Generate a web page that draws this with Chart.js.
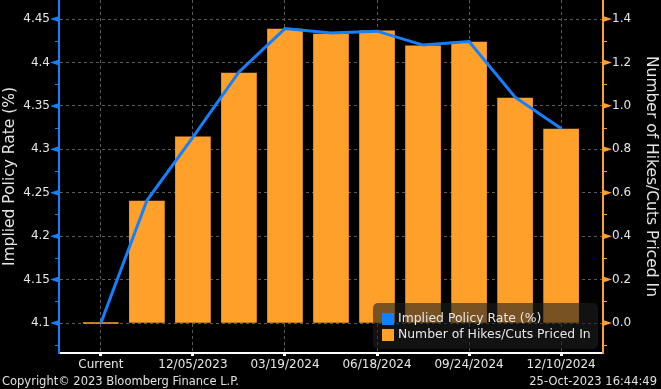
<!DOCTYPE html>
<html>
<head>
<meta charset="utf-8">
<script src="https://cdn.jsdelivr.net/npm/chart.js@4"></script>
<style>
  body { margin: 0; background: #000; }
  #wrap { position: relative; width: 661px; height: 389px; }
  .foot { position: absolute; bottom: 1px; color: #e0e0e0; font: 11.5px "DejaVu Sans", sans-serif; }
</style>
</head>
<body>
<div id="wrap">
  <canvas id="myChart" width="661" height="389"></canvas>
  <div class="foot" style="left:2px">Copyright© 2023 Bloomberg Finance L.P.</div>
  <div class="foot" style="right:4px">25-Oct-2023 16:44:49</div>
</div>
<script>
// meeting dates (only every other one is labelled on the axis)
var categories = ['Current', '11/01/2023', '12/05/2023', '01/31/2024', '03/19/2024', '05/01/2024',
    '06/18/2024', '07/31/2024', '09/24/2024', '11/07/2024', '12/10/2024'];
var impliedRate = [4.100, 4.241, 4.314, 4.389, 4.439, 4.434, 4.436, 4.420, 4.424, 4.360, 4.324];
var hikesCuts = [0.000, 0.562, 0.857, 1.151, 1.354, 1.331, 1.345, 1.276, 1.294, 1.036, 0.893];
var rateTicks = { min: 4.0655, max: 4.4719, step: 0.05 };
var hikeTicks = { min: -0.138, max: 1.4875, step: 0.2 };

var blue = 'rgb(18,128,255)', orange = 'rgb(255,160,42)', txt = '#e6e6e6', gridCol = '#5c5c5c';
var font = { family: 'DejaVu Sans', size: 12 };

// little flag markers + minor ticks on the two value axes
const axisMarks = {
    id: 'axisMarks',
    afterDraw(chart) {
        const ctx = chart.ctx;
        [['y', -1, blue, rateTicks.step], ['y1', 1, orange, hikeTicks.step]].forEach(function (a) {
            const s = chart.scales[a[0]], dir = a[1];
            const x0 = dir < 0 ? s.right : s.left;
            ctx.save();
            ctx.fillStyle = a[2];
            ctx.strokeStyle = a[2];
            ctx.lineWidth = 1;
            s.ticks.forEach(function (t) {
                const y = s.getPixelForValue(t.value);
                ctx.beginPath();
                ctx.moveTo(x0, y - 3);
                ctx.lineTo(x0 + dir * 9, y);
                ctx.lineTo(x0, y + 3);
                ctx.closePath();
                ctx.fill();
            });
            const first = s.ticks[0].value;
            for (let v = first - a[3] / 2; v <= s.max; v += a[3]) {
                if (v < s.min) continue;
                const y = Math.round(s.getPixelForValue(v)) + 0.5;
                ctx.beginPath();
                ctx.moveTo(x0, y);
                ctx.lineTo(x0 + dir * 4, y);
                ctx.stroke();
            }
            ctx.restore();
        });
    }
};

// legend box sitting inside the plot, bottom right
const boxLegend = {
    id: 'boxLegend',
    afterDraw(chart) {
        const ctx = chart.ctx, ca = chart.chartArea;
        const w = 225, h = 46;
        const x = ca.right - w - 5, y = ca.bottom - h - 4;
        ctx.save();
        ctx.fillStyle = 'rgba(30,30,30,0.6)';
        ctx.beginPath();
        ctx.roundRect(x, y, w, h, 5);
        ctx.fill();
        ctx.font = '12.4px "DejaVu Sans"';
        ctx.textBaseline = 'middle';
        chart.data.datasets.forEach(function (ds, i) {
            const cy = y + 16 + i * 16;
            ctx.fillStyle = ds.legendColor;
            ctx.fillRect(x + 9, cy - 6, 12, 12);
            ctx.fillStyle = txt;
            ctx.fillText(ds.label, x + 25, cy);
        });
        ctx.restore();
    }
};

const data = {
    labels: categories,
    datasets: [{
        type: 'line',
        label: 'Implied Policy Rate (%)',
        data: impliedRate,
        yAxisID: 'y',
        borderColor: blue,
        legendColor: blue,
        borderWidth: 3,
        pointRadius: 0,
        tension: 0,
        order: 0
    }, {
        type: 'bar',
        label: 'Number of Hikes/Cuts Priced In',
        data: hikesCuts,
        yAxisID: 'y1',
        backgroundColor: orange,
        legendColor: orange,
        barThickness: 35,
        minBarLength: 1,
        order: 1
    }]
};

const config = {
    data: data,
    options: {
        responsive: false,
        animation: false,
        layout: { padding: 0 },
        plugins: { legend: { display: false }, tooltip: { enabled: false } },
        scales: {
            x: {
                type: 'category',
                offset: false,
                afterBuildTicks: function (s) {
                    s._startValue = -0.91;
                    s._valueRange = categories.length - 1 + 1.82;
                },
                afterFit: function (s) { s.height = 36; s.paddingLeft = 0; s.paddingRight = 0; },
                border: { color: '#ffffff', width: 2, dash: [3, 3] },
                grid: {
                    offset: false,
                    color: ctx => ctx.index % 2 === 0 ? gridCol : 'transparent',
                    tickColor: ctx => ctx.index % 2 === 0 ? '#ffffff' : 'transparent',
                    tickLength: 3,
                    tickWidth: 3,
                    tickBorderDash: []
                },
                ticks: {
                    color: txt, font: font, autoSkip: false, maxRotation: 0, padding: 2,
                    callback: function (v, i) { return i % 2 === 0 ? categories[i] : ''; }
                }
            },
            y: {
                position: 'left',
                min: rateTicks.min,
                max: rateTicks.max,
                afterFit: function (s) { s.width = 59; s.paddingTop = 0; s.paddingBottom = 0; },
                border: { color: blue, width: 2, dash: [3, 3] },
                grid: { color: gridCol, drawTicks: false },
                ticks: {
                    stepSize: rateTicks.step, includeBounds: false, color: txt, font: font, padding: 9,
                    callback: v => String(+v.toFixed(2))
                },
                title: { display: true, text: 'Implied Policy Rate (%)', color: txt,
                    font: { family: 'DejaVu Sans', size: 15.5 }, padding: { top: 1, bottom: 0 } }
            },
            y1: {
                position: 'right',
                min: hikeTicks.min,
                max: hikeTicks.max,
                afterFit: function (s) { s.width = 58; s.paddingTop = 0; s.paddingBottom = 0; },
                border: { color: orange, width: 2 },
                grid: { drawOnChartArea: false, drawTicks: false },
                ticks: {
                    stepSize: hikeTicks.step, includeBounds: false, color: txt, font: font, padding: 9,
                    callback: v => v.toFixed(1)
                },
                title: { display: true, text: 'Number of Hikes/Cuts Priced In', color: txt,
                    font: { family: 'DejaVu Sans', size: 15.5 }, padding: { top: 1, bottom: 0 } }
            }
        }
    },
    plugins: [axisMarks, boxLegend]
};

const myChart = new Chart(document.getElementById('myChart'), config);
</script>
</body>
</html>
